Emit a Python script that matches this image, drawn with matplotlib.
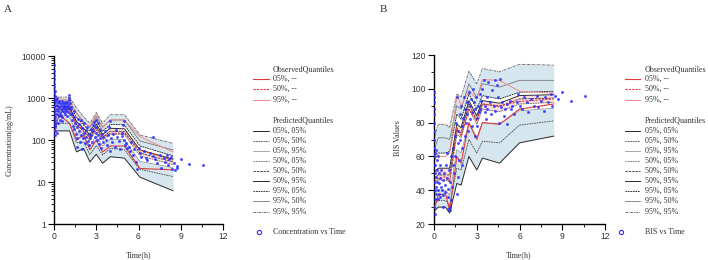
import matplotlib
matplotlib.use("Agg")
import matplotlib.pyplot as plt
from matplotlib.lines import Line2D
from matplotlib.ticker import MultipleLocator, LogLocator, NullFormatter, FixedLocator

# ---------------- Panel A data (concentration, ng/mL) ----------------
a_bins = [0.05, 0.35, 1.1, 1.6, 2.1, 2.55, 3.0, 3.45, 4.0, 5.0, 6.1, 8.45]
a_p95_95 = [1120, 1050, 1050, 575, 355, 250, 455, 250, 400, 400, 132, 83]
a_p95_50 = [910, 850, 850, 435, 275, 200, 355, 200, 300, 300, 95, 58]
a_p95_05 = [760, 725, 725, 345, 225, 162, 290, 162, 235, 230, 72, 42]
a_p50_95 = [630, 615, 615, 275, 190, 135, 240, 135, 190, 185, 58, 35]
a_p50_50 = [550, 535, 535, 235, 162, 115, 205, 115, 162, 158, 49, 30]
a_p50_05 = [480, 470, 470, 200, 138, 98, 174, 98, 138, 135, 42, 26]
a_p05_95 = [380, 375, 375, 150, 122, 72, 125, 72, 105, 100, 31, 22]
a_p05_50 = [250, 250, 250, 87, 89, 45, 74, 44, 63, 59, 20, 13.5]
a_p05_05 = [165, 165, 165, 52, 63, 30, 46, 28, 40, 37, 13, 6.2]
a_obs95 = [1000, 955, 890, 435, 250, 215, 400, 205, 300, 300, 120, 52]
a_obs50 = [560, 600, 560, 225, 180, 112, 200, 112, 145, 145, 58, 33]
a_obs05 = [160, 400, 250, 100, 132, 58, 100, 52, 72, 72, 21, 19.5]

a_time = [0.02, 0.02, 0.03, 0.02, 0.03, 0.02, 0.04, 0.03, 0.05, 0.04, 0.06, 0.05, 0.03, 0.06, 0.04, 0.05, 0.07, 0.05, 0.04, 0.06, 0.05,
          0.15, 0.18, 0.2, 0.22, 0.25, 0.28, 0.3, 0.32, 0.35, 0.38, 0.4, 0.42, 0.45, 0.48, 0.5, 0.52, 0.55, 0.58, 0.6, 0.62,
          0.65, 0.68, 0.7, 0.72, 0.75, 0.78, 0.8, 0.82, 0.85, 0.88, 0.9, 0.92, 0.95, 0.98, 1.0, 1.02, 1.05, 1.08, 1.1, 1.12,
          1.15, 1.15, 0.2, 0.3, 0.6, 0.18, 0.1,
          1.25, 1.3, 1.35, 1.4, 1.45, 1.5, 1.55, 1.6, 1.65, 1.7, 1.75, 1.8, 1.85, 1.9, 1.95, 2.0, 2.05, 2.1, 2.15, 2.2,
          2.25, 2.3, 2.35, 2.4, 2.45, 2.5, 2.55, 2.6, 2.65, 2.7, 2.75, 2.8, 2.85, 2.9, 2.95, 3.0, 3.05, 3.1, 3.15, 3.2,
          3.25, 3.3, 3.35, 3.4, 3.45, 3.5, 1.6, 2.0, 1.45, 1.2, 3.0,
          3.6, 3.7, 3.75, 3.8, 3.9, 3.95, 4.0, 4.05, 4.1, 4.2, 4.3, 4.4, 4.5, 4.6, 4.7, 4.8, 4.85, 4.9, 5.0, 5.0, 5.05, 5.1, 5.2,
          5.3, 5.4, 5.5, 5.6, 5.7, 5.8, 5.9, 6.0, 6.1, 6.2, 6.4, 6.5, 6.6, 6.8, 7.0, 7.0, 7.2, 7.3, 7.5, 7.6, 7.8, 7.9,
          8.0, 8.1, 8.2, 8.3, 8.4, 8.5, 8.6, 8.7, 8.75, 9.0, 9.6, 10.6]
a_conc = [6000, 4500, 3500, 2800, 2200, 1800, 1500, 1300, 1100, 950, 800, 700, 600, 500, 420, 350, 300, 250, 200, 160, 135,
          900, 700, 550, 420, 800, 650, 500, 380, 850, 600, 450, 300, 750, 550, 400, 680, 850, 500, 350, 620,
          780, 460, 560, 700, 820, 420, 600, 500, 740, 650, 380, 800, 560, 470, 700, 620, 900, 1200, 1000, 750,
          550, 420, 150, 260, 280, 1000, 230,
          420, 300, 220, 350, 180, 260, 140, 200, 110, 320, 160, 240, 90, 130, 300, 190, 110, 150, 250, 85,
          170, 120, 200, 95, 140, 75, 110, 180, 130, 90, 230, 160, 270, 120, 200, 150, 100, 250, 130, 80,
          175, 110, 65, 140, 90, 120, 70, 60, 480, 600, 300,
          160, 100, 75, 130, 200, 55, 280, 110, 90, 140, 70, 170, 115, 95, 60, 150, 125, 230, 280, 100, 75, 85, 65,
          70, 55, 90, 45, 60, 30, 20, 65, 48, 40, 55, 38, 33, 50, 115, 42, 35, 28, 45, 22, 38, 30,
          45, 26, 35, 40, 20, 28, 19, 24, 22, 35, 27, 25]

# ---------------- Panel B data (BIS) ----------------
b_bins = [0.05, 0.3, 0.8, 1.1, 1.6, 1.9, 2.45, 3.0, 3.4, 4.6, 6.0, 8.4]
b_p95_95 = [72, 79, 79, 77, 97, 95, 110.5, 103, 112, 110, 114.5, 114]
b_p95_50 = [65, 71, 71, 70, 90, 88, 103, 95, 103, 101, 105, 105]
b_p95_05 = [58, 62, 62, 63, 85, 82, 97, 88, 96, 94, 98, 98.5]
b_p50_95 = [51, 53, 53, 53, 79, 77, 93, 84, 93, 91.5, 96, 96.5]
b_p50_50 = [47, 49, 49, 49, 76, 74, 91, 81.5, 91, 89.5, 94, 94.5]
b_p50_05 = [44, 46, 46, 45, 73, 71, 88, 79, 88, 86.5, 91, 92]
b_p05_95 = [38, 40, 40, 37, 64, 62, 80, 71, 80, 79, 87, 88.5]
b_p05_50 = [32, 34, 34, 31, 53, 52, 70, 62, 69, 68, 78.5, 81]
b_p05_05 = [28, 30, 30, 26.5, 44, 43, 60, 52, 59, 56, 68, 72]
b_obs95 = [65, 60, 60, 62, 96, 90, 99, 94, 105.5, 105, 98.5, 97.5]
b_obs50 = [45, 47, 48, 45, 77, 72, 88, 81, 91, 90, 92.5, 94]
b_obs05 = [30, 37, 38, 28, 60, 56, 80, 70, 80, 79, 88, 91]

b_time = [0.0, 0.0, 0.01, 0.0, 0.01, 0.02, 0.02, 0.03, 0.02, 0.04, 0.03, 0.05, 0.04, 0.03, 0.05, 0.02, 0.03,
          0.08, 0.1, 0.12, 0.14, 0.16, 0.18, 0.2, 0.22, 0.25, 0.28, 0.3, 0.32, 0.35, 0.38, 0.4, 0.42, 0.45, 0.48, 0.5,
          0.55, 0.6, 0.65, 0.7, 0.75, 0.8, 0.85, 0.9, 0.95, 1.0, 1.05, 1.1, 1.12, 1.15, 1.18, 1.2, 0.15, 0.6, 0.9, 1.0,
          1.25, 1.3, 1.35, 1.4, 1.45, 1.5, 1.55, 1.6, 1.65, 1.7, 1.75, 1.8, 1.85, 1.9, 1.95, 2.0, 2.05, 2.1, 2.15, 2.2,
          2.25, 2.3, 2.35, 2.4, 2.45, 2.5, 2.55, 2.6, 2.65, 2.7, 2.75, 2.8, 2.85, 2.9, 2.95, 3.0, 3.05, 3.1, 3.15, 3.2,
          3.25, 3.3, 1.7, 2.0, 1.6,
          3.4, 3.5, 3.55, 3.6, 3.7, 3.75, 3.8, 3.9, 4.0, 4.1, 4.2, 4.3, 4.4, 4.5, 4.6, 4.7, 4.8, 4.9, 5.0, 5.1, 5.15,
          3.65, 4.25, 4.55,
          5.3, 5.4, 5.5, 5.6, 5.8, 5.9, 6.0, 6.2, 6.3, 6.5, 6.6, 6.8, 7.0, 7.2, 7.3, 7.5, 7.7, 7.8, 8.0, 8.2, 8.3, 8.5,
          8.7, 9.0, 9.6, 10.6]
b_bis = [98, 95, 92, 88, 85, 80, 65, 60, 55, 50, 45, 40, 35, 30, 26, 70, 75,
         62, 55, 48, 42, 38, 58, 52, 45, 40, 35, 60, 50, 44, 38, 55, 47, 36, 42, 52,
         40, 46, 37, 50, 43, 39, 55, 47, 41, 36, 52, 45, 30, 28, 60, 34, 64, 30, 62, 29,
         42, 55, 65, 50, 72, 60, 80, 95, 68, 75, 58, 85, 70, 90, 78, 65, 83, 95, 72, 88,
         80, 92, 85, 75, 98, 90, 82, 94, 86, 78, 100, 92, 72, 88, 95, 83, 78, 90, 86, 97,
         88, 93, 48, 55, 38,
         100, 105, 90, 86, 95, 88, 104, 92, 85, 99, 90, 87, 102, 95, 106, 89, 92, 84, 88, 79, 91,
         82, 105, 80,
         93, 88, 90, 85, 92, 97, 90, 88, 95, 92, 86, 94, 90, 96, 89, 93, 87, 95, 92, 97, 90, 96,
         94, 98, 93, 96]

legend_obs = ["05%, --", "50%, --", "95%, --"]
legend_pred = ["05%, 05%", "05%, 50%", "05%, 95%", "50%, 05%", "50%, 50%",
               "50%, 95%", "95%, 05%", "95%, 50%", "95%, 95%"]

# ---------------- styling ----------------
W, H = 708, 260
fig = plt.figure(figsize=(W / 100, H / 100), dpi=100)
SERIF = ["Liberation Serif", "DejaVu Serif"]
SANS = ["Liberation Sans", "DejaVu Sans"]
TXT = "#333333"
BLUE_FILL = "#d6e6ef"
PINK_FILL = "#f9dede"

obs_styles = [dict(color="#e03a3a", ls="-", lw=0.8),
              dict(color="#e03a3a", ls=(0, (2, 1)), lw=0.8),
              dict(color="#f08a8a", ls="-", lw=0.7)]
pred_styles = [dict(color="#2a2a2a", ls="-", lw=0.7),
               dict(color="#444444", ls=(0, (2, 1)), lw=0.6),
               dict(color="#9a9a9a", ls="-", lw=0.6),
               dict(color="#666666", ls=(0, (2, 1)), lw=0.6),
               dict(color="#333333", ls=(0, (3, 1)), lw=0.6),
               dict(color="#2a2a2a", ls="-", lw=0.7),
               dict(color="#111111", ls=(0, (2, 1)), lw=0.6),
               dict(color="#777777", ls="-", lw=0.6),
               dict(color="#555555", ls=(0, (3, 1, 1, 1)), lw=0.6)]


def px(x, y):
    return x / W, 1 - y / H


def draw_panel(ax, bins, preds, obs, tx, ty):
    p05_05, p05_50, p05_95, p50_05, p50_50, p50_95, p95_05, p95_50, p95_95 = preds
    ax.fill_between(bins, p05_05, p05_95, color=BLUE_FILL, lw=0, zorder=1)
    ax.fill_between(bins, p95_05, p95_95, color=BLUE_FILL, lw=0, zorder=1)
    ax.fill_between(bins, p50_05, p50_95, color=PINK_FILL, lw=0, zorder=1.2)
    for vals, st in zip(preds, pred_styles):
        ax.plot(bins, vals, zorder=2, **st)
    for vals, st in zip(obs, obs_styles):
        ax.plot(bins, vals, zorder=3, **st)
    ax.plot(tx, ty, ls="none", marker="o", ms=1.7, mfc="#2a2aff", mec="#2a2aff",
            mew=0.3, alpha=0.9, zorder=4)
    for s in ["top", "right"]:
        ax.spines[s].set_visible(False)
    for s in ["left", "bottom"]:
        ax.spines[s].set_linewidth(1.0)
    ax.set_xlim(0, 12)
    ax.xaxis.set_major_locator(MultipleLocator(3))
    ax.xaxis.set_minor_locator(MultipleLocator(1.5))
    ax.tick_params(which="major", direction="out", length=4, width=0.8, labelsize=6.2,
                   colors="black", labelcolor=TXT, pad=2)
    ax.tick_params(which="minor", direction="out", length=2.2, width=0.6)
    for lab in ax.get_xticklabels() + ax.get_yticklabels():
        lab.set_fontfamily(SANS)


axA = fig.add_axes([54 / W, 1 - 224 / H, (223 - 54) / W, (224 - 56) / H])
axA.set_yscale("log")
axA.set_ylim(1, 10000)
draw_panel(axA, a_bins,
           [a_p05_05, a_p05_50, a_p05_95, a_p50_05, a_p50_50, a_p50_95, a_p95_05, a_p95_50, a_p95_95],
           [a_obs05, a_obs50, a_obs95], a_time, a_conc)
axA.yaxis.set_major_locator(FixedLocator([1, 10, 100, 1000, 10000]))
axA.set_yticklabels(["1", "10", "100", "1000", "10000"], fontfamily=SANS)
axA.yaxis.set_minor_locator(LogLocator(base=10, subs=range(2, 10), numticks=20))
axA.yaxis.set_minor_formatter(NullFormatter())

axB = fig.add_axes([434 / W, 1 - 224 / H, (605 - 434) / W, (224 - 55) / H])
axB.set_ylim(20, 120)
draw_panel(axB, b_bins,
           [b_p05_05, b_p05_50, b_p05_95, b_p50_05, b_p50_50, b_p50_95, b_p95_05, b_p95_50, b_p95_95],
           [b_obs05, b_obs50, b_obs95], b_time, b_bis)
axB.yaxis.set_major_locator(MultipleLocator(20))
axB.yaxis.set_minor_locator(MultipleLocator(10))
for lab in axB.get_yticklabels() + axB.get_xticklabels():
    lab.set_fontfamily(SANS)

# axis labels and panel letters
fs_lab = 5.8
fig.text(*px(9.5, 140), "Concentration(ng/mL)", rotation=90, ha="center", va="center",
         fontsize=fs_lab, family=SERIF, color=TXT)
fig.text(*px(139, 255), "Time(h)", ha="center", va="center", fontsize=fs_lab, family=SERIF, color=TXT)
fig.text(*px(398, 138), "BIS Values", rotation=90, ha="center", va="center",
         fontsize=fs_lab, family=SERIF, color=TXT)
fig.text(*px(519, 255), "Time(h)", ha="center", va="center", fontsize=fs_lab, family=SERIF, color=TXT)
fig.text(*px(4, 9), "A", ha="left", va="center", fontsize=8, family=SERIF, color=TXT)
fig.text(*px(380, 9), "B", ha="left", va="center", fontsize=8, family=SERIF, color=TXT)


# legends
def legend(x_line0, x_line1, x_text, x_marker, scatter_label):
    ys_obs = [79.3, 89.3, 100.0]
    ys_pred = [130.5, 140.6, 150.7, 160.8, 170.9, 181.0, 191.1, 201.2, 211.7]
    fig.text(*px(x_text, 69.3), "ObservedQuantiles", ha="left", va="center",
             fontsize=fs_lab, family=SERIF, color=TXT)
    for y, lab, st in zip(ys_obs, legend_obs, obs_styles):
        fig.add_artist(Line2D([x_line0 / W, x_line1 / W], [1 - y / H] * 2, transform=fig.transFigure, **st))
        fig.text(*px(x_text, y), lab, ha="left", va="center", fontsize=fs_lab, family=SERIF, color=TXT)
    fig.text(*px(x_text, 120.4), "PredictedQuantiles", ha="left", va="center",
             fontsize=fs_lab, family=SERIF, color=TXT)
    for y, lab, st in zip(ys_pred, legend_pred, pred_styles):
        fig.add_artist(Line2D([x_line0 / W, x_line1 / W], [1 - y / H] * 2, transform=fig.transFigure, **st))
        fig.text(*px(x_text, y), lab, ha="left", va="center", fontsize=fs_lab, family=SERIF, color=TXT)
    fig.add_artist(Line2D([x_marker / W], [1 - 232.3 / H], transform=fig.transFigure, ls="none",
                          marker="o", ms=3.0, mfc="none", mec="#2a2aff", mew=0.8))
    fig.text(*px(x_text, 232.3), scatter_label, ha="left", va="center", fontsize=fs_lab, family=SERIF, color=TXT)


legend(253, 269, 273, 259, "Concentration vs Time")
legend(625, 640, 645, 621, "BIS vs Time")

fig.savefig("out.png", dpi=100)
